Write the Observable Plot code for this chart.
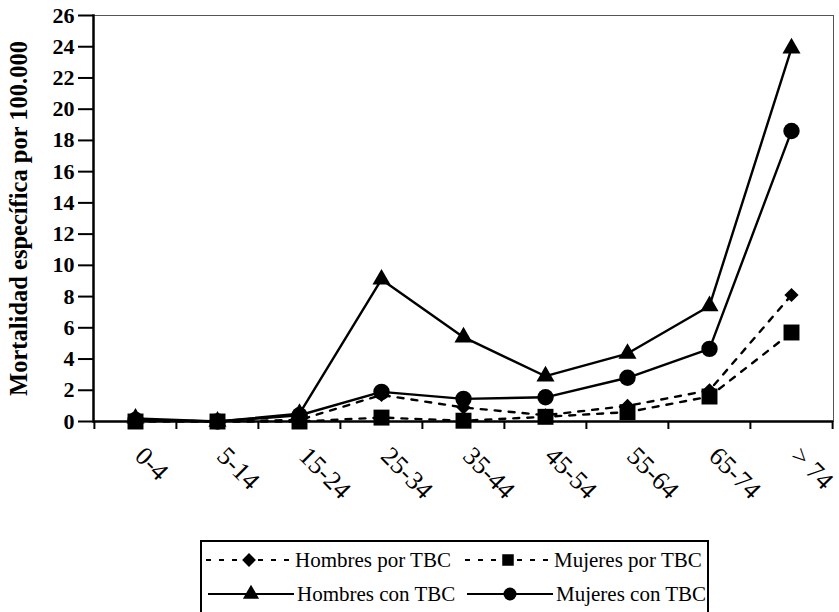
<!DOCTYPE html>
<html>
<head>
<meta charset="utf-8">
<script src="https://cdn.jsdelivr.net/npm/d3@7"></script>
<script src="https://cdn.jsdelivr.net/npm/@observablehq/plot@0.6"></script>
<style>
  html, body { margin: 0; padding: 0; background: #fff; }
  #wrap { position: relative; width: 839px; height: 612px; overflow: hidden; font-family: "Liberation Serif", serif; }
  #legend { position: absolute; left: 200px; top: 540px; width: 509px; height: 90px; border: 2px solid #000; box-sizing: border-box; }
  .item { position: absolute; display: flex; align-items: center; font-family: "Liberation Serif", serif; font-size: 21px; color: #000; white-space: nowrap; }
  .item svg { display: block; margin-right: 3px; }
</style>
</head>
<body>
<div id="wrap">
  <div id="chart"></div>
  <div id="legend"></div>
</div>
<script>
const categories = ["0-4", "5-14", "15-24", "25-34", "35-44", "45-54", "55-64", "65-74", "> 74"];
const hombresPor = [0.1, 0.0, 0.1, 1.7, 0.9, 0.4, 1.0, 2.0, 8.1];
const mujeresPor = [0.0, 0.0, 0.0, 0.25, 0.05, 0.3, 0.6, 1.6, 5.7];
const hombresCon = [0.2, 0.0, 0.5, 9.1, 5.4, 2.9, 4.35, 7.4, 23.9];
const mujeresCon = [0.1, 0.0, 0.4, 1.9, 1.45, 1.55, 2.8, 4.65, 18.6];
const yTicks = [0, 2, 4, 6, 8, 10, 12, 14, 16, 18, 20, 22, 24, 26];
const yTitle = "Mortalidad específica por 100.000";
const seriesNames = ["Hombres por TBC", "Mujeres por TBC", "Hombres con TBC", "Mujeres con TBC"];

const FONT = "Liberation Serif";

const seriesDefs = [
  {name: seriesNames[0], values: hombresPor, symbol: "diamond2", r: 6.4, dash: "6,8"},
  {name: seriesNames[1], values: mujeresPor, symbol: "square", r: 9, dash: "6,8"},
  {name: seriesNames[2], values: hombresCon, symbol: "triangle", r: 6.7, dash: null},
  {name: seriesNames[3], values: mujeresCon, symbol: "circle", r: 8.2, dash: null}
];

const W = 839, H = 535, mL = 93, mR = 6, mT = 15, mB = 114;
const bw = (W - mL - mR) / categories.length;

const marks = [
  Plot.frame({stroke: "#555", strokeWidth: 1}),
  Plot.axisY({ticks: yTicks, tickSize: 15, tickPadding: 4, fontSize: 22, fontWeight: "bold", fontFamily: FONT, label: null, tickFormat: d => d, strokeWidth: 2}),
  Plot.axisX({ticks: categories, tickSize: 8, text: null, label: null, dx: -bw / 2, strokeWidth: 2}),
  Plot.axisX({ticks: [categories[categories.length - 1]], tickSize: 8, text: null, label: null, dx: bw / 2, strokeWidth: 2}),
  Plot.text(categories, {x: d => d, frameAnchor: "bottom", dy: 36, dx: -2, rotate: 45, textAnchor: "start", fontSize: 26, fontFamily: FONT}),
  Plot.text([yTitle], {frameAnchor: "left", dx: -74, rotate: -90, textAnchor: "middle", fontSize: 24.5, fontWeight: "bold", fontFamily: FONT}),
  Plot.ruleY([0], {stroke: "black", strokeWidth: 2.5}),
  Plot.frame({anchor: "left", stroke: "black", strokeWidth: 2.5})
];

for (const s of seriesDefs) {
  const rows = categories.map((c, i) => ({cat: c, value: s.values[i]}));
  marks.push(Plot.line(rows, {x: "cat", y: "value", stroke: "black", strokeWidth: 2.4, strokeDasharray: s.dash || undefined}));
  marks.push(Plot.dot(rows, {x: "cat", y: "value", symbol: () => s.symbol, r: s.r, fill: "black", stroke: "none"}));
}

const chart = Plot.plot({
  width: W, height: H,
  marginLeft: mL, marginRight: mR, marginTop: mT, marginBottom: mB,
  x: {type: "band", domain: categories, padding: 0},
  y: {domain: [0, 26]},
  symbol: {type: "identity"},
  style: {fontFamily: FONT, background: "white", color: "black", overflow: "visible"},
  marks
});
document.getElementById("chart").appendChild(chart);

// Legend
const legend = document.getElementById("legend");
const pos = [[4, 18], [263, 18], [6, 52], [265, 52]];
const symPath = {
  diamond2: d3.symbol(d3.symbolDiamond2, Math.PI * 6.2 * 6.2)(),
  square: d3.symbol(d3.symbolSquare, Math.PI * 6.5 * 6.5)(),
  triangle: d3.symbol(d3.symbolTriangle, Math.PI * 6 * 6)(),
  circle: d3.symbol(d3.symbolCircle, Math.PI * 6.5 * 6.5)()
};
seriesDefs.forEach((s, i) => {
  const item = document.createElement("div");
  item.className = "item";
  item.style.left = pos[i][0] + "px";
  item.style.top = (pos[i][1] - 13) + "px";
  const ns = "http://www.w3.org/2000/svg";
  const svg = document.createElementNS(ns, "svg");
  svg.setAttribute("width", 86); svg.setAttribute("height", 26);
  const line = document.createElementNS(ns, "line");
  line.setAttribute("x1", 0); line.setAttribute("x2", 86);
  line.setAttribute("y1", 13); line.setAttribute("y2", 13);
  line.setAttribute("stroke", "black"); line.setAttribute("stroke-width", 2.2);
  if (s.dash) line.setAttribute("stroke-dasharray", "5,8");
  svg.appendChild(line);
  const p = document.createElementNS(ns, "path");
  p.setAttribute("d", symPath[s.symbol]);
  p.setAttribute("transform", "translate(43,13)");
  p.setAttribute("fill", "black");
  svg.appendChild(p);
  item.appendChild(svg);
  const t = document.createElement("span");
  t.textContent = s.name;
  item.appendChild(t);
  legend.appendChild(item);
});
</script>
</body>
</html>
